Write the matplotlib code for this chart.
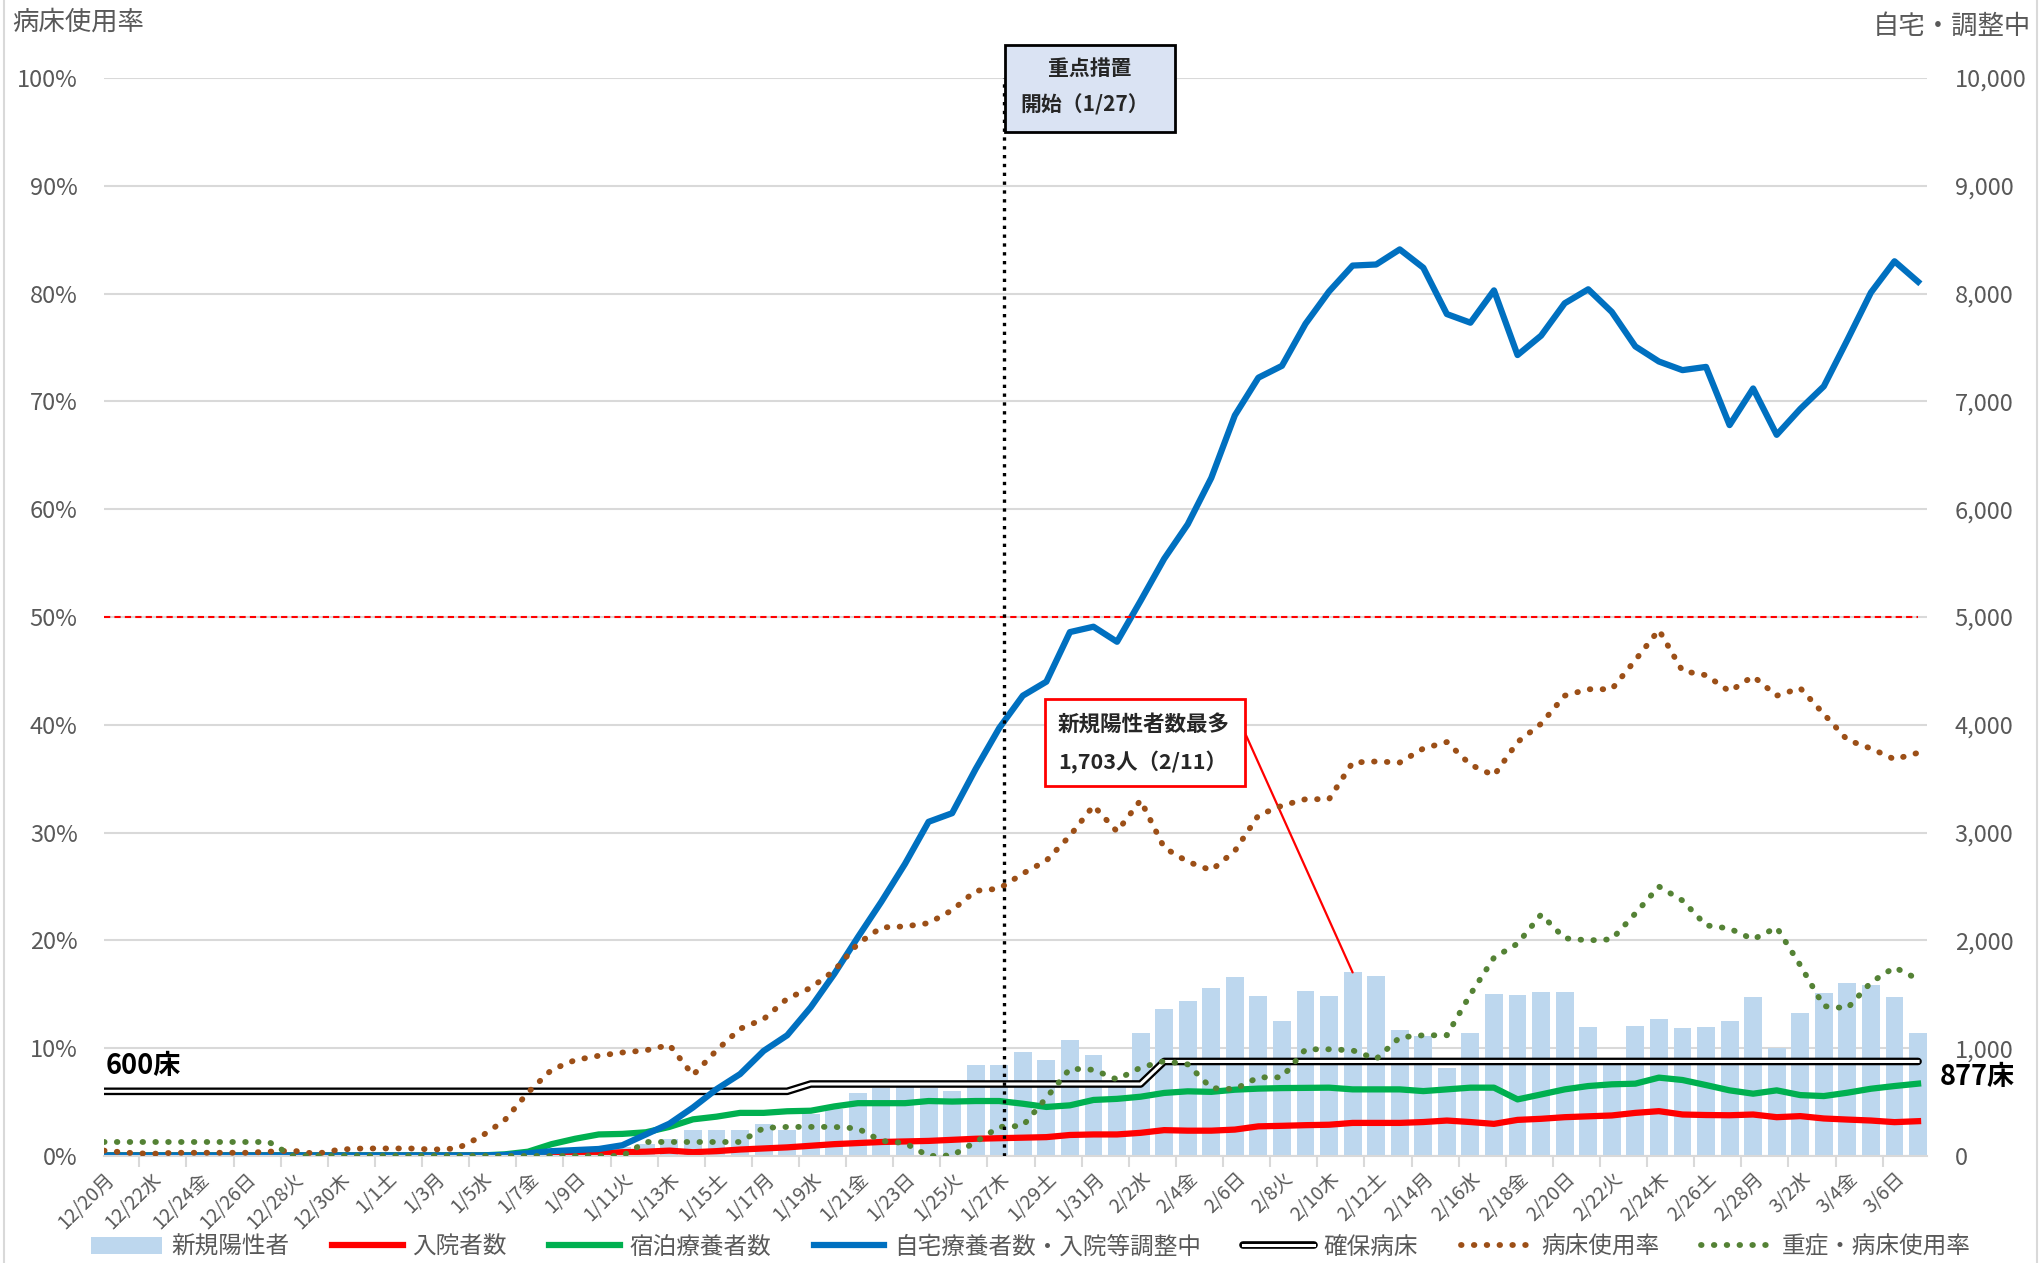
#病床使用率・療養者数の推移 (12/20 - 3/7)

import numpy as np
import matplotlib
matplotlib.use('Agg')
import matplotlib.pyplot as plt
import matplotlib.patheffects as pe
from matplotlib.patches import Rectangle
from matplotlib.lines import Line2D
from matplotlib.ticker import FuncFormatter

plt.rcParams['font.family'] = ['Noto Sans CJK JP', 'DejaVu Sans']

#x tick labels (every 2 days, 12/20 - 3/6)
date_labels = ['12/20月', '12/22水', '12/24金', '12/26日', '12/28火', '12/30木',
               '1/1土', '1/3月', '1/5水', '1/7金', '1/9日', '1/11火', '1/13木',
               '1/15土', '1/17月', '1/19水', '1/21金', '1/23日', '1/25火', '1/27木',
               '1/29土', '1/31月', '2/2水', '2/4金', '2/6日', '2/8火', '2/10木',
               '2/12土', '2/14月', '2/16水', '2/18金', '2/20日', '2/22火', '2/24木',
               '2/26土', '2/28月', '3/2水', '3/4金', '3/6日']

#daily values 12/20 .. 3/7 (78 days)
new_pos = [2, 3, 1, 2, 3, 2, 1, 2, 1, 2, 3, 1, 2, 2, 3, 5, 10, 20, 35, 55,
           60, 50, 80, 110, 160, 245, 245, 245, 300, 245, 385, 432, 587, 634, 671, 634,
           603, 845, 845, 966, 895, 1075, 935, 700, 1137, 1363, 1435, 1556, 1658, 1481,
           1255, 1528, 1481, 1703, 1671, 1171, 1115, 814, 1137, 1503, 1494, 1519, 1519, 1199,
           870, 1208, 1267, 1186, 1199, 1255, 1472, 998, 1323, 1512, 1609, 1584, 1475, 1137]
hospital = [5, 5, 5, 5, 5, 5, 5, 5, 5, 5, 5, 5, 5, 5, 5, 5, 5, 5, 10, 15,
            20, 25, 35, 40, 50, 35, 45, 60, 70, 80, 95, 110, 120, 130, 135, 140,
            150, 160, 165, 170, 175, 195, 200, 200, 215, 240, 235, 235, 245, 275,
            280, 286, 290, 307, 307, 307, 315, 329, 315, 298, 335, 345, 360, 368,
            376, 400, 416, 385, 380, 378, 385, 360, 370, 348, 338, 329, 314, 323]
hotel = [5, 5, 5, 5, 5, 5, 5, 5, 5, 5, 5, 5, 5, 5, 5, 5, 5, 15, 40, 110,
         160, 200, 205, 220, 270, 340, 365, 400, 400, 415, 420, 460, 490, 490, 490, 510,
         505, 510, 510, 485, 455, 470, 520, 530, 550, 585, 600, 595, 615, 625,
         630, 632, 634, 618, 618, 618, 602, 618, 634, 634, 525, 571, 618, 649,
         665, 671, 727, 705, 658, 609, 578, 609, 565, 556, 587, 624, 649, 671]
home = [5, 5, 5, 5, 5, 5, 5, 5, 5, 5, 5, 5, 5, 5, 5, 5, 5, 10, 25, 45,
        55, 65, 100, 200, 300, 450, 620, 760, 975, 1120, 1380, 1690, 2030, 2360, 2710, 3100,
        3180, 3590, 3970, 4270, 4400, 4860, 4910, 4770, 5150, 5540, 5860, 6290, 6870, 7220,
        7330, 7720, 8020, 8260, 8270, 8410, 8240, 7810, 7730, 8030, 7430, 7610, 7910, 8040,
        7830, 7510, 7370, 7290, 7320, 6780, 7120, 6690, 6930, 7140, 7570, 8010, 8300, 8110]
beds = [600] * 30 + [668] * 15 + [877] * 33
bed_rate = [0.5, 0.3, 0.2, 0.3, 0.3, 0.3, 0.3, 0.4, 0.5, 0.2, 0.6, 0.7, 0.7, 0.7, 0.6, 0.7,
            1.8, 3.3, 5.9, 8.0, 8.9, 9.3, 9.6, 9.8, 10.3, 7.5, 9.8, 11.8, 12.7, 14.6,
            15.6, 17.2, 19.7, 21.2, 21.3, 21.6, 22.8, 24.6, 24.8, 26.2, 27.4, 29.7, 32.5, 30.1,
            33.0, 28.6, 27.3, 26.5, 28.3, 31.6, 32.5, 33.1, 33.1, 36.5, 36.6, 36.5, 37.8, 38.4,
            36.3, 35.3, 38.4, 40.1, 42.7, 43.3, 43.3, 46.0, 48.8, 45.0, 44.6, 43.1, 44.5, 42.7,
            43.4, 41.0, 38.6, 37.8, 36.8, 37.4]
severe_rate = [1.3, 1.3, 1.3, 1.3, 1.3, 1.3, 1.3, 1.3, 0, 0, 0, 0, 0, 0, 0, 0, 0, 0, 0, 0,
               0, 0, 0, 1.3, 1.3, 1.3, 1.3, 1.3, 2.6, 2.7, 2.7, 2.7, 2.55, 1.4, 1.2, 0,
               0.05, 1.3, 2.7, 2.8, 5.4, 8.1, 8.0, 7.1, 8.2, 8.8, 8.5, 6.3, 6.2, 7.3,
               7.3, 9.9, 9.9, 9.8, 9.0, 11.0, 11.2, 11.2, 15.0, 18.4, 19.7, 22.4, 20.2, 20.0,
               20.1, 22.5, 25.0, 23.7, 21.4, 21.1, 20.1, 21.2, 17.7, 13.9, 13.7, 16.1, 17.5, 16.4]

legend_labels = ['新規陽性者', '入院者数', '宿泊療養者数', '自宅療養者数・入院等調整中',
                 '確保病床', '病床使用率', '重症・病床使用率']

W, H = 2041, 1263
def fx(px):
    return px / W
def fy(py):
    return 1 - py / H

x = np.arange(len(new_pos))
grey = '#595959'
brown = '#9c4f17'
olive = '#548235'
dots = (0, (0.1, 2.1))
double = [pe.Stroke(linewidth=5.5, foreground='black', capstyle='round'), pe.Normal()]

fig = plt.figure(figsize=(W / 100, H / 100), dpi=100)
ax = fig.add_axes([fx(104), fy(1156), fx(1927) - fx(104), fy(78) - fy(1156)])
ax2 = ax.twinx()
ax.set_zorder(ax2.get_zorder() + 1)
ax.patch.set_visible(False)

#right axis: counts
bars = ax2.bar(x, new_pos, width=0.76, color='#bdd7ee', zorder=1)
l_beds, = ax2.plot(x, beds, color='white', lw=2.2, zorder=2, path_effects=double)
l_hosp, = ax2.plot(x, hospital, color='#ff0000', lw=4.5, zorder=3)
l_hotel, = ax2.plot(x, hotel, color='#00b050', lw=4.5, zorder=3)
l_home, = ax2.plot(x, home, color='#0070c0', lw=4.5, zorder=4)
ax2.set_ylim(0, 10000)
ax2.set_yticks(range(0, 10001, 1000))
ax2.yaxis.set_major_formatter(FuncFormatter(lambda v, _: f'{int(v):,}'))
ax2.yaxis.grid(True, color='#d9d9d9', lw=1.5)
ax2.set_axisbelow(True)
ax2.tick_params(axis='y', length=0, pad=20, labelsize=17, labelcolor=grey)

ax2.text(0.05, 835, '600床', fontsize=19.5, fontweight='bold', ha='left', va='center', zorder=5)
ax2.text(77.94, 733, '877床', fontsize=19.5, fontweight='bold', ha='left', va='center',
         clip_on=False)
ax2.annotate('', xy=(53, 1703), xycoords='data', xytext=(fx(1245), fy(733)),
             textcoords='figure fraction',
             arrowprops=dict(arrowstyle='-', color='red', lw=1.6, shrinkA=0, shrinkB=0))

#left axis: rates
l_bed, = ax.plot(x, np.array(bed_rate) / 100, color=brown, lw=4.2, ls=dots,
                 dash_capstyle='round', zorder=5)
l_sev, = ax.plot(x, np.array(severe_rate) / 100, color=olive, lw=4.2, ls=dots,
                 dash_capstyle='round', zorder=5)
ax.plot([0, 77], [0.5, 0.5], color='red', lw=1.5, ls=(0, (3, 2)), zorder=2)
ax.axvline(38.2, color='black', lw=2.4, ls=':', zorder=6)
ax.set_ylim(0, 1)
ax.set_yticks(np.arange(0, 1.01, 0.1))
ax.yaxis.set_major_formatter(FuncFormatter(lambda v, _: f'{v * 100:.0f}%'))
ax.tick_params(axis='y', length=0, pad=19, labelsize=17, labelcolor=grey)

ax.set_xlim(0, 77.38)
ax.set_xticks(np.arange(0, 78, 2))
ax.set_xticklabels(date_labels, rotation=45, ha='right', va='top', rotation_mode='anchor',
                   fontsize=14, color=grey)
ax.set_xticks(np.arange(1.5, 77, 2), minor=True)
ax.tick_params(axis='x', which='major', length=0, pad=9)
ax.tick_params(axis='x', which='minor', length=8, width=1.5, color='#d9d9d9')

for a in (ax, ax2):
    for s in a.spines.values():
        s.set_visible(False)
ax.spines['bottom'].set_visible(True)
ax.spines['bottom'].set_color('#d9d9d9')
ax.spines['bottom'].set_linewidth(1.5)

#axis titles
fig.text(fx(12), fy(22), '病床使用率', ha='left', va='center', fontsize=19, color=grey)
fig.text(fx(2031), fy(26), '自宅・調整中', ha='right', va='center', fontsize=19, color=grey)

#annotation boxes
fig.add_artist(Rectangle((fx(1005), fy(132)), fx(1175) - fx(1005), fy(45) - fy(132),
                         transform=fig.transFigure, facecolor='#dae3f3', edgecolor='black',
                         lw=2, zorder=10))
fig.text(fx(1090), fy(68), '重点措置', ha='center', va='center', fontsize=15,
         fontweight='bold', color='#262626', zorder=11)
fig.text(fx(1020), fy(105), '開始（1/27）', ha='left', va='center', fontsize=15,
         fontweight='bold', color='#262626', zorder=11)

fig.add_artist(Rectangle((fx(1045), fy(786)), fx(1245) - fx(1045), fy(699) - fy(786),
                         transform=fig.transFigure, facecolor='white', edgecolor='red',
                         lw=2, zorder=10))
fig.text(fx(1058), fy(725), '新規陽性者数最多', ha='left', va='center', fontsize=15.5,
         fontweight='bold', color='#262626', zorder=11)
fig.text(fx(1058), fy(762), '1,703人（2/11）', ha='left', va='center', fontsize=15.5,
         fontweight='bold', color='#262626', zorder=11)

#frame lines of the chart area
fig.add_artist(Line2D([fx(4), fx(4)], [0, 1], transform=fig.transFigure, color='#d9d9d9', lw=1.5))
fig.add_artist(Line2D([fx(2037), fx(2037)], [0, 1], transform=fig.transFigure, color='#d9d9d9', lw=1.5))

#legend
handles = [bars, l_hosp, l_hotel, l_home, l_beds, l_bed, l_sev]
fig.legend(handles, legend_labels, loc='center', bbox_to_anchor=(0.505, fy(1247)), ncol=7,
           frameon=False, fontsize=17, handlelength=3.0, handletextpad=0.4, columnspacing=1.8,
           labelcolor=grey)

plt.savefig('out.png', dpi=100)
